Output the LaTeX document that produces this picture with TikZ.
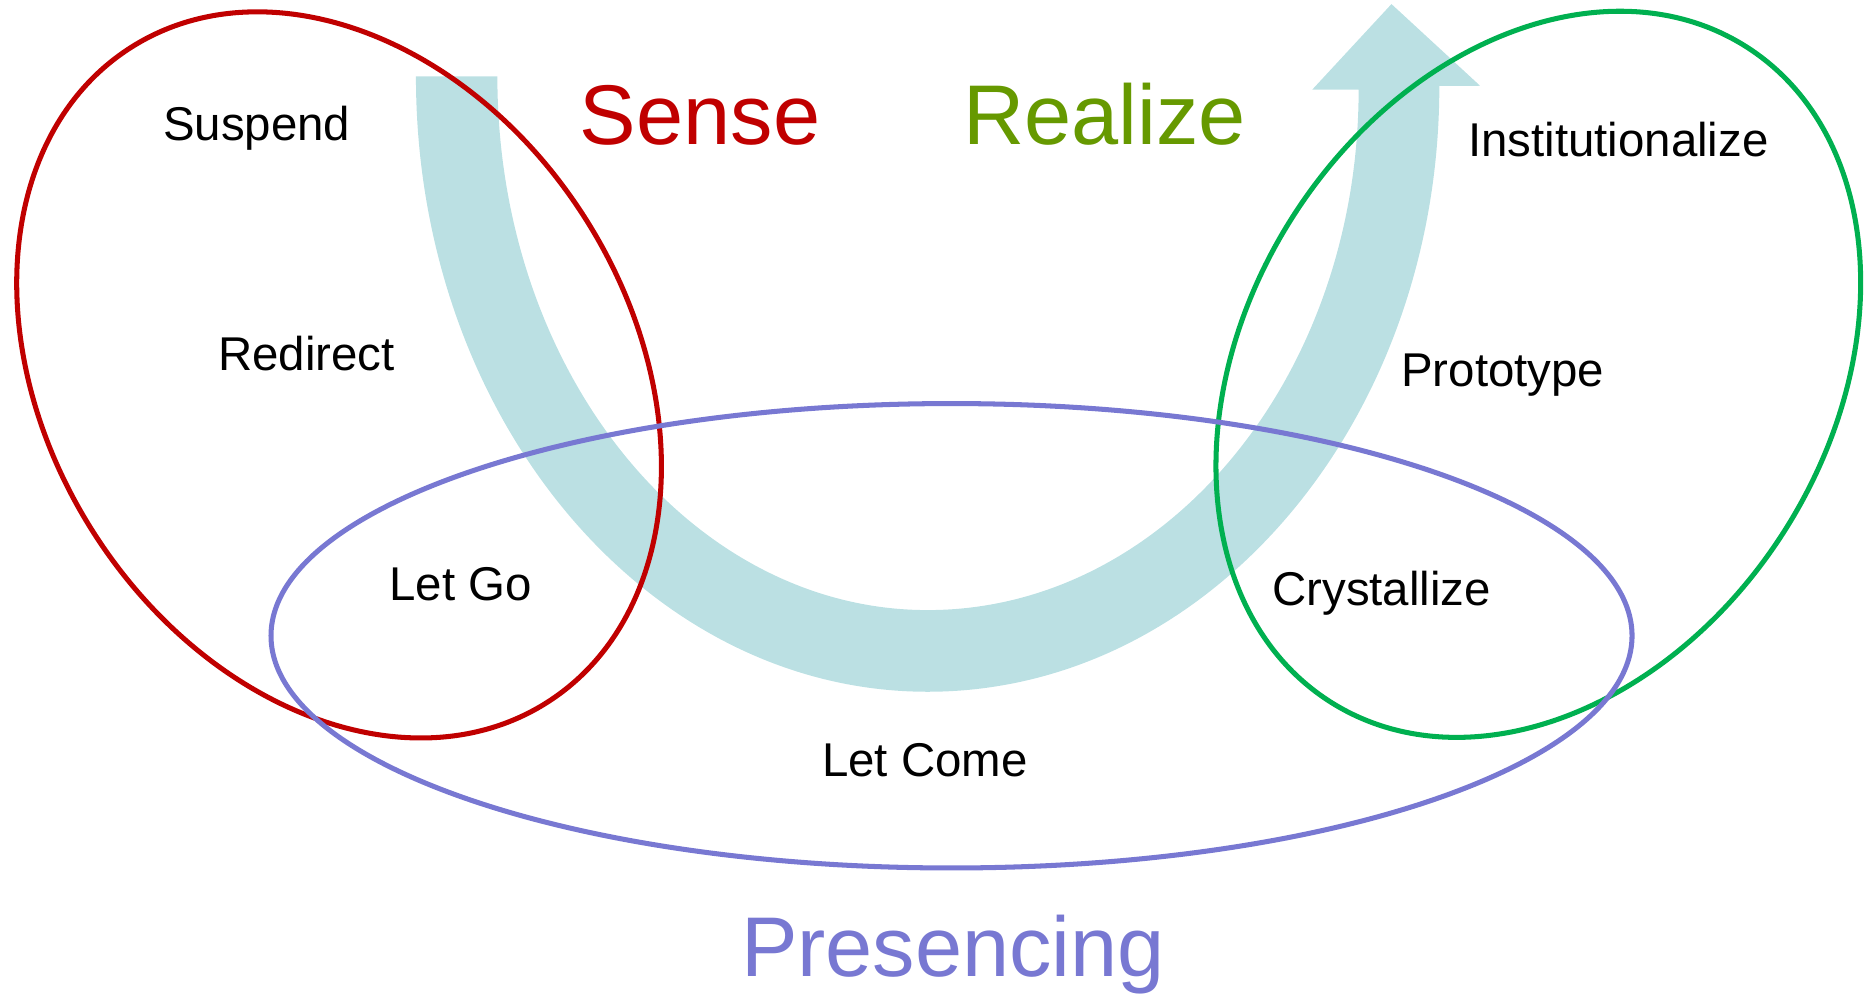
\documentclass[tikz,border=0pt]{standalone}
\usepackage{fontspec}
\setmainfont{Liberation Sans}
\usepackage{tikz}
\usetikzlibrary{positioning}
\definecolor{senseRed}{RGB}{192,0,0}
\definecolor{realizeGreen}{RGB}{102,153,0}
\definecolor{loopGreen}{RGB}{0,176,80}
\definecolor{presBlue}{RGB}{120,120,210}
\definecolor{bandBlue}{RGB}{187,224,227}
\tikzstyle{stage} = [font=\fontsize{11.3}{13}\selectfont, inner sep=0pt, anchor=base west]
\tikzstyle{phase} = [font=\fontsize{20.2}{24}\selectfont, inner sep=0pt, anchor=base west]
\tikzstyle{loop} = [line width=1.2pt]

\begin{document}
\begin{tikzpicture}[x=0.1mm, y=-0.1mm]
        \useasboundingbox (0,0) rectangle (1568,832);

        % U-turn arrow
        \fill[bandBlue] (348.4,64)
            arc [start angle=180, end angle=90, x radius=428.6, y radius=515.4]
            arc [start angle=90, end angle=0, x radius=428.6, y radius=507.4]
            -- (1239.7,71.8) -- (1165.5,3.4) -- (1099.2,75) -- (1138,75)
            arc [start angle=0, end angle=90, x radius=361, y radius=436]
            arc [start angle=90, end angle=180, x radius=360.4, y radius=447]
            -- cycle;

        % Loops
        \draw[loop, senseRed, rotate around={-57.6:(284,314)}] (284,314) ellipse [x radius=325, y radius=244.4];
        \draw[loop, loopGreen, rotate around={57.6:(1288.5,313.5)}] (1288.5,313.5) ellipse [x radius=325, y radius=244.4];
        \draw[loop, presBlue] (797,532.5) ellipse [x radius=570, y radius=194.5];

        % Stages
        \node[stage] (suspend) at (136,117.5) {Suspend};
        \node[stage] (redirect) at (182,310.7) {Redirect};
        \node[stage] (letgo) at (325.5,502.6) {Let Go};
        \node[stage] (letcome) at (688,650.5) {Let Come};
        \node[stage] (crystallize) at (1065,507) {Crystallize};
        \node[stage] (prototype) at (1173,323.6) {Prototype};
        \node[stage] (institutionalize) at (1229,130.7) {Institutionalize};

        % Phases
        \node[phase, senseRed] (sense) at (485,121) {Sense};
        \node[phase, realizeGreen] (realize) at (806,121) {Realize};
        \node[phase, presBlue] (presencing) at (620,817.5) {Presencing};

    \end{tikzpicture}
\end{document}
